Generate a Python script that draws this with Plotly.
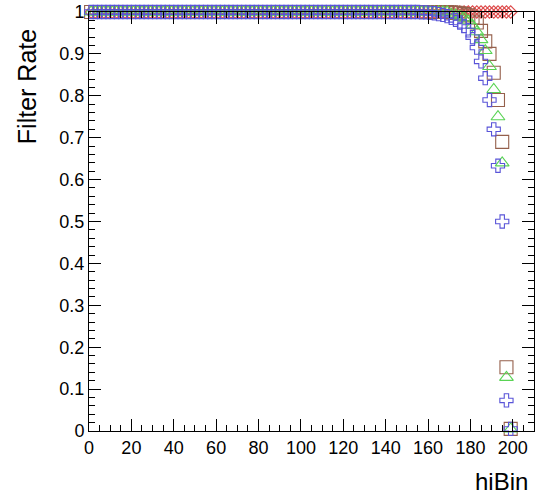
import plotly.graph_objects as go

# bin centres (hiBin, 100 bins of width 2)
hibin = list(range(1, 200, 2))

rate_red = [1.0] * 100

rate_brown = [1.0] * 85 + [0.999, 0.998, 0.997, 0.995, 0.992, 0.987, 0.975, 0.955,
                           0.93, 0.90, 0.855, 0.79, 0.69, 0.152, 0.005]

rate_green = [1.0] * 85 + [0.995, 0.993, 0.99, 0.986, 0.979, 0.968, 0.953, 0.934,
                           0.908, 0.87, 0.815, 0.75, 0.64, 0.128, 0.005]

rate_blue = [1.0] * 77 + [1.0, 0.999, 0.999, 0.998, 0.997, 0.995, 0.993, 0.99,
                          0.986, 0.981, 0.975, 0.967, 0.956, 0.94, 0.915, 0.882,
                          0.842, 0.79, 0.72, 0.633, 0.5, 0.073, 0.005]

series = [
    ("red", rate_red, "diamond-open", "#dd4a4a", 9.5),
    ("brown", rate_brown, "square-open", "#95604c", 13),
    ("green", rate_green, "triangle-up-open", "#59d354", 12),
    ("blue", rate_blue, "cross-open", "#5954d8", 11),
]

fig = go.Figure()
for name, vals, sym, col, sz in series:
    fig.add_trace(go.Scatter(
        x=hibin, y=vals, mode="markers", name=name, cliponaxis=False,
        marker=dict(symbol=sym, size=sz, color=col, line=dict(width=1.1, color=col)),
        showlegend=False,
    ))

font = "Liberation Sans, Arial, Helvetica, sans-serif"
axis_common = dict(
    ticks="inside", ticklen=12, tickwidth=1, tickcolor="black",
    showline=True, linecolor="black", linewidth=1, mirror="ticks",
    showgrid=False, zeroline=False,
    tickfont=dict(family=font, size=18, color="black"),
)
fig.update_xaxes(range=[0, 210], tickmode="linear", tick0=0, dtick=20,
                 minor=dict(dtick=5, ticklen=6, ticks="inside", tickcolor="black", showgrid=False),
                 **axis_common)
fig.update_yaxes(range=[0, 1], tickmode="linear", tick0=0, dtick=0.1,
                 minor=dict(dtick=0.02, ticklen=6, ticks="inside", tickcolor="black", showgrid=False),
                 **axis_common)

fig.update_layout(
    width=537, height=497,
    margin=dict(l=89, r=3, t=12, b=66),
    paper_bgcolor="white", plot_bgcolor="white",
    annotations=[
        dict(text="Filter Rate", xref="paper", yref="paper", x=-0.139, y=0.821,
             xanchor="center", yanchor="middle", textangle=-90, showarrow=False,
             font=dict(family=font, size=25, color="black")),
        dict(text="hiBin", xref="paper", yref="paper", x=0.99, y=-0.121,
             xanchor="right", yanchor="middle", showarrow=False,
             font=dict(family=font, size=24, color="black")),
    ],
)

fig.write_html("out.html")
